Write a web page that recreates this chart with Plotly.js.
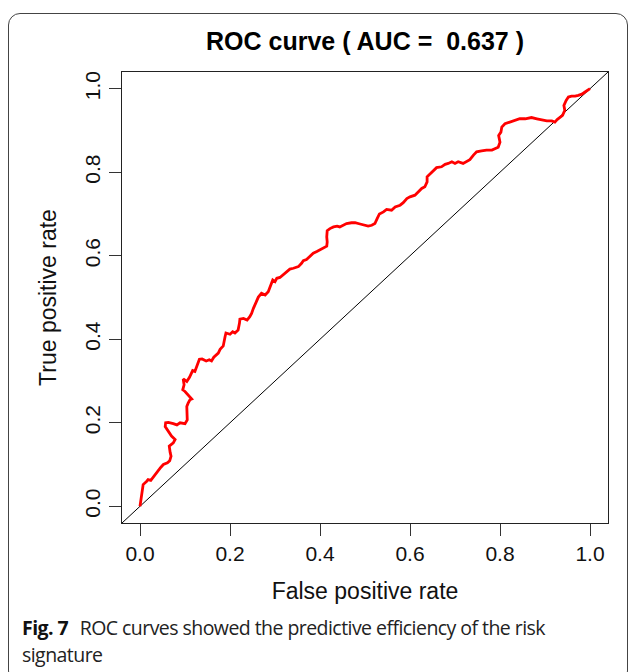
<!DOCTYPE html>
<html>
<head>
<meta charset="utf-8">
<script src="https://cdn.plot.ly/plotly-3.0.1.min.js"></script>
<style>
  html, body { margin: 0; padding: 0; background: #fff; }
  #wrap { position: relative; width: 630px; height: 672px; overflow: hidden; }
  #frame {
    position: absolute; left: 8px; top: 13px; width: 620px; height: 670px;
    border: 1.2px solid #444; border-radius: 12px; box-sizing: border-box;
    pointer-events: none;
  }
  #chart { position: absolute; left: 0; top: 0; width: 630px; height: 672px; }
  #caption {
    position: absolute; left: 22px; top: 614px; width: 600px;
    font-family: "Open Sans", "Noto Sans", sans-serif; font-size: 19.5px;
    line-height: 27px; color: #222; letter-spacing: -0.55px;
  }
  #caption b { font-weight: 700; color: #111; margin-right: 7px; }
</style>
</head>
<body>
<div id="wrap">
  <div id="chart"></div>
  <div id="frame"></div>
  <div id="caption"><b>Fig. 7</b> ROC curves showed the predictive efficiency of the risk<br>signature</div>
</div>
<script>
// ROC curve of the risk signature: false positive rate vs true positive rate
const fpr = [
  0.000, 0.002, 0.005, 0.007, 0.015, 0.018, 0.024, 0.030, 0.035, 0.041,
  0.046, 0.052, 0.061, 0.066, 0.069, 0.067, 0.065, 0.074, 0.078, 0.070,
  0.063, 0.056, 0.057, 0.063, 0.074, 0.082, 0.089, 0.100, 0.105, 0.104,
  0.104, 0.107, 0.111, 0.115, 0.107, 0.100, 0.095, 0.098, 0.096, 0.104,
  0.110, 0.117, 0.122, 0.130, 0.132, 0.138, 0.147, 0.154, 0.159, 0.164,
  0.174, 0.178, 0.185, 0.189, 0.191, 0.200, 0.206, 0.211, 0.218, 0.221,
  0.222, 0.230, 0.238, 0.244, 0.248, 0.252, 0.259, 0.263, 0.270, 0.278,
  0.285, 0.290, 0.295, 0.300, 0.304, 0.311, 0.318, 0.326, 0.333, 0.341,
  0.352, 0.359, 0.363, 0.370, 0.378, 0.385, 0.393, 0.400, 0.407, 0.415,
  0.416, 0.415, 0.416, 0.422, 0.430, 0.438, 0.444, 0.452, 0.459, 0.470,
  0.478, 0.489, 0.500, 0.507, 0.515, 0.522, 0.527, 0.532, 0.541, 0.548,
  0.559, 0.567, 0.578, 0.585, 0.593, 0.600, 0.611, 0.618, 0.626, 0.633,
  0.638, 0.638, 0.644, 0.652, 0.659, 0.670, 0.678, 0.685, 0.693, 0.700,
  0.707, 0.718, 0.726, 0.733, 0.741, 0.748, 0.759, 0.770, 0.782, 0.789,
  0.796, 0.800, 0.797, 0.802, 0.804, 0.811, 0.822, 0.833, 0.844, 0.856,
  0.870, 0.882, 0.893, 0.904, 0.915, 0.922, 0.927, 0.933, 0.939, 0.944,
  0.942, 0.947, 0.952, 0.959, 0.967, 0.974, 0.982, 0.989, 0.996, 1.000
];
const tpr = [
  0.000, 0.016, 0.033, 0.052, 0.060, 0.064, 0.062, 0.071, 0.078, 0.086,
  0.093, 0.100, 0.104, 0.109, 0.120, 0.129, 0.144, 0.152, 0.160, 0.168,
  0.179, 0.191, 0.200, 0.201, 0.198, 0.195, 0.200, 0.198, 0.207, 0.223,
  0.239, 0.247, 0.255, 0.257, 0.267, 0.275, 0.279, 0.291, 0.305, 0.299,
  0.309, 0.325, 0.323, 0.343, 0.352, 0.353, 0.348, 0.351, 0.348, 0.357,
  0.367, 0.376, 0.384, 0.406, 0.415, 0.412, 0.418, 0.415, 0.422, 0.438,
  0.448, 0.450, 0.446, 0.454, 0.462, 0.474, 0.490, 0.501, 0.510, 0.506,
  0.514, 0.530, 0.542, 0.538, 0.546, 0.548, 0.554, 0.562, 0.568, 0.570,
  0.574, 0.582, 0.588, 0.591, 0.599, 0.606, 0.610, 0.614, 0.618, 0.623,
  0.633, 0.645, 0.660, 0.665, 0.669, 0.671, 0.669, 0.673, 0.677, 0.679,
  0.679, 0.676, 0.673, 0.671, 0.673, 0.677, 0.689, 0.700, 0.705, 0.711,
  0.709, 0.717, 0.721, 0.727, 0.737, 0.741, 0.745, 0.753, 0.761, 0.765,
  0.777, 0.789, 0.795, 0.805, 0.811, 0.813, 0.819, 0.821, 0.825, 0.821,
  0.825, 0.821, 0.825, 0.830, 0.841, 0.849, 0.851, 0.853, 0.853, 0.857,
  0.860, 0.872, 0.888, 0.896, 0.908, 0.916, 0.920, 0.924, 0.928, 0.928,
  0.931, 0.928, 0.926, 0.923, 0.923, 0.920, 0.926, 0.932, 0.936, 0.948,
  0.960, 0.972, 0.980, 0.982, 0.982, 0.984, 0.987, 0.992, 0.998, 1.000
];
const aucValue = 0.637;
const tickVals = [0, 0.2, 0.4, 0.6, 0.8, 1.0];
const tickText = ["0.0", "0.2", "0.4", "0.6", "0.8", "1.0"];
// R-style 4% padding around the unit square
const axisRange = [-0.04, 1.04];

const fontFam = "Liberation Sans, Arial, Helvetica, sans-serif";

const traces = [
  {
    // chance line y = x across the whole panel
    x: axisRange, y: axisRange, mode: "lines", type: "scatter",
    line: { color: "#000", width: 1 }, hoverinfo: "skip", showlegend: false
  },
  {
    x: fpr, y: tpr, mode: "lines", type: "scatter",
    line: { color: "#ff0000", width: 2.8, shape: "linear" },
    showlegend: false
  }
];

const axisCommon = {
  range: axisRange, autorange: false,
  tickmode: "array", tickvals: tickVals, ticktext: tickText,
  ticks: "outside", ticklen: 12, tickwidth: 1, tickcolor: "#333",
  showline: true, mirror: true, linecolor: "#222", linewidth: 1.2,
  showgrid: false, zeroline: false,
  tickfont: { family: fontFam, size: 21, color: "#111" }
};

const layout = {
  width: 630, height: 672,
  margin: { l: 122, r: 22, t: 72, b: 149 },
  paper_bgcolor: "rgba(0,0,0,0)", plot_bgcolor: "#fff",
  title: {
    text: "<b>ROC curve ( AUC =\u00a0 " + aucValue.toFixed(3) + " )</b>",
    font: { family: fontFam, size: 25, color: "#000" },
    x: 0.5, xref: "paper", xanchor: "center",
    y: 1 - 41 / 672, yref: "container", yanchor: "middle"
  },
  xaxis: Object.assign({}, axisCommon, {
    title: { text: "False positive rate", font: { family: fontFam, size: 23, color: "#111" }, standoff: 18 }
  }),
  yaxis: Object.assign({}, axisCommon, {
    tickangle: -90,
    title: { text: "True positive rate", font: { family: fontFam, size: 23, color: "#111" }, standoff: 18 }
  })
};

Plotly.newPlot("chart", traces, layout, { staticPlot: true, displayModeBar: false });
</script>
</body>
</html>
